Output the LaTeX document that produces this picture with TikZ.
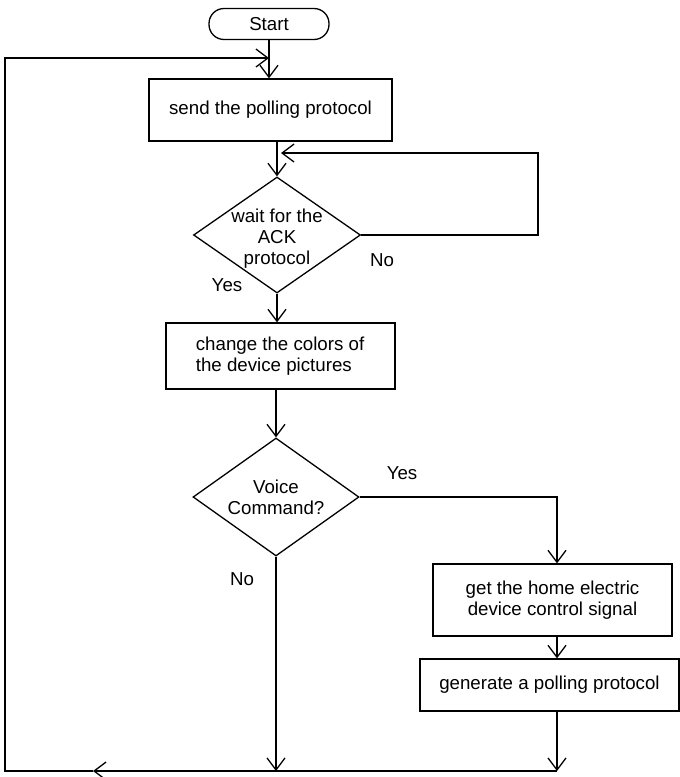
\documentclass[tikz,border=0pt]{standalone}
\usepackage{fontspec}
\setmainfont{Liberation Sans}
\usetikzlibrary{shapes.geometric,arrows.meta}
\begin{document}
\begin{tikzpicture}[x=1pt,y=-1pt,
  every node/.style={font=\fontsize{18.7}{21}\selectfont},
  box/.style={draw,line width=1.3pt,inner sep=0pt,align=center},
  dec/.style={draw,diamond,line width=1.3pt,inner sep=0pt},
  term/.style={draw,line width=1.3pt,inner sep=0pt,rounded corners=15pt},
  line/.style={line width=1.3pt},
  arr/.style={line width=1.3pt,-{Straight Barb[length=12pt,width=18pt,line width=1.3pt]}},
  lbl/.style={inner sep=0pt}
]
\useasboundingbox (0,0) rectangle (680,777);

% process steps
\node[term,minimum width=120pt,minimum height=31pt] (start) at (269,24) {Start};
\node[box,minimum width=243pt,minimum height=62pt] (box1) at (270.5,110) {send the polling protocol};
\node[dec,minimum width=167pt,minimum height=116pt,
      label={[align=center,yshift=-4pt]center:wait for the\\ACK\\protocol}] (d1) at (277,235) {};
\node[box,minimum width=229pt,minimum height=66pt,
      label={[anchor=west,align=left,xshift=27pt]west:change the colors of\\the device pictures}] (box2) at (280.5,356) {};
\node[dec,minimum width=166pt,minimum height=118pt,
      label={[align=center]center:Voice\\Command?}] (d2) at (276,497) {};
\node[box,minimum width=239pt,minimum height=72pt] (box3) at (552.5,600) {get the home electric\\device control signal};
\node[box,minimum width=259pt,minimum height=52pt] (gen) at (549.5,685) {generate a polling protocol};

% branch labels
\node[lbl] (y1) at (227,285) {Yes};
\node[lbl] (n1) at (382,260) {No};
\node[lbl] (y2) at (402,473) {Yes};
\node[lbl] (n2) at (242,579) {No};

% routing points
\coordinate (tl) at (5,58);
\coordinate (bl) at (5,771);
\coordinate (bm) at (93,771);
\coordinate (rt) at (538,153);
\coordinate (lt) at (281,153);
\coordinate (rc) at (557,0);

% connectors
\draw[arr] (start.south) -- (start.south |- box1.north);
\draw[arr] (box1.south -| d1.north) -- (d1.north);
\draw[arr] (d1.east) -| (rt) -- (lt);
\draw[arr] (d1.south) -- (d1.south |- box2.north);
\draw[arr] (box2.south -| d2.north) -- (d2.north);
\draw[arr] (d2.east) -| (rc |- box3.north);
\draw[arr] (rc |- box3.south) -- (rc |- gen.north);
\draw[arr] (rc |- gen.south) -- (rc |- bl);
\draw[arr] (d2.south) -- (d2.south |- bl);
\draw[arr] (rc |- bl) -- (bm);
\draw[arr] (bm) -- (bl) -- (tl) -- (tl -| start.south);
\end{tikzpicture}
\end{document}
